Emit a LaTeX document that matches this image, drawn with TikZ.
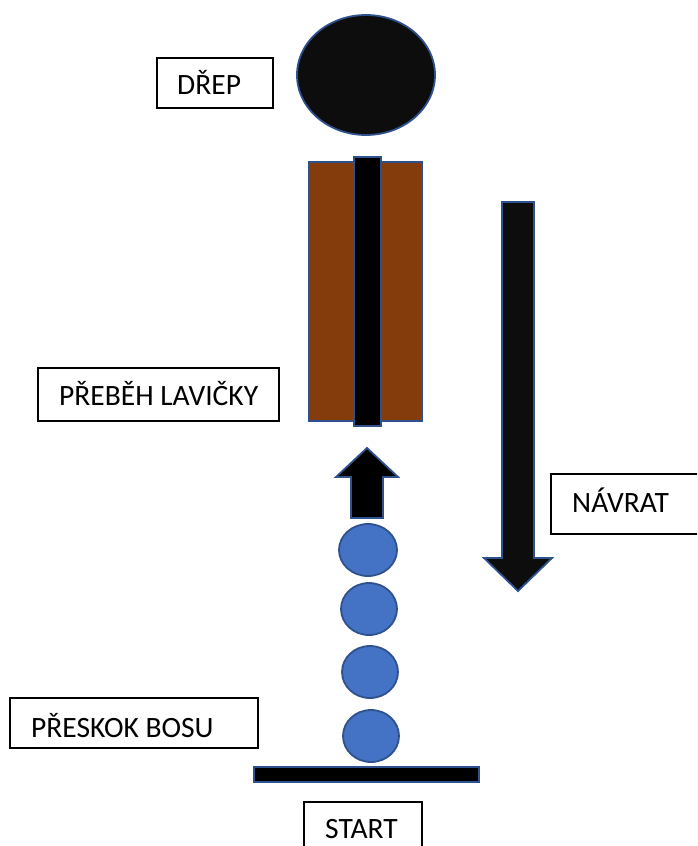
\documentclass[tikz,border=0pt]{standalone}
\usepackage{fontspec}
\setmainfont{Carlito}
\definecolor{edgeblue}{HTML}{2F528F}
\definecolor{ballblue}{HTML}{4472C4}
\definecolor{benchbrown}{HTML}{843C0C}
\definecolor{nearblack}{HTML}{0D0D0D}
\begin{document}
\begin{tikzpicture}[x=1pt,y=-1pt,
  shapeline/.style={draw=edgeblue,line width=1.8pt},
  labelbox/.style={draw=black,line width=1.3pt,fill=white},
  labeltext/.style={anchor=base west,inner sep=0pt,font=\fontsize{29.5}{34}\selectfont},
  ball/.style={shapeline,fill=ballblue}]
\useasboundingbox (0,0) rectangle (697,846);
\clip (0,0) rectangle (697,846);
% head (drep)
\draw[shapeline,fill=nearblack] (366,75) ellipse [x radius=69,y radius=60];
% bench
\draw[shapeline,fill=benchbrown] (309,162) rectangle (422,421);
\draw[shapeline,fill=black] (354,157) rectangle (381,426);
% return arrow
\draw[shapeline,fill=nearblack] (502,202) -- (534,202) -- (534,558) -- (552,558) -- (518,591) -- (484,558) -- (502,558) -- cycle;
% up arrow
\draw[shapeline,fill=black] (351,518) -- (351,477) -- (336,477) -- (367,448) -- (398,477) -- (383,477) -- (383,518) -- cycle;
% bosu balls
\draw[ball] (368,550) ellipse [x radius=29,y radius=26];
\draw[ball] (369,609) ellipse [x radius=28,y radius=26];
\draw[ball] (370,672) ellipse [x radius=28,y radius=26];
\draw[ball] (371,736) ellipse [x radius=28,y radius=26];
% start line
\draw[shapeline,fill=black] (254,767) rectangle (479,782);
% label boxes
\draw[labelbox] (157,58) rectangle (273,108);
\node[labeltext] (drep) at (177,94) {DŘEP};
\draw[labelbox] (38,368) rectangle (279,421);
\node[labeltext] (lavicka) at (59,405) {PŘEBĚH LAVIČKY};
\draw[labelbox] (551,474) rectangle (720,534);
\node[labeltext] (navrat) at (572,512) {NÁVRAT};
\draw[labelbox] (10,698) rectangle (258,748);
\node[labeltext] (bosu) at (31,737) {PŘESKOK BOSU};
\draw[labelbox] (304,802) rectangle (422,870);
\node[labeltext] (start) at (325,838) {START};
\end{tikzpicture}
\end{document}
